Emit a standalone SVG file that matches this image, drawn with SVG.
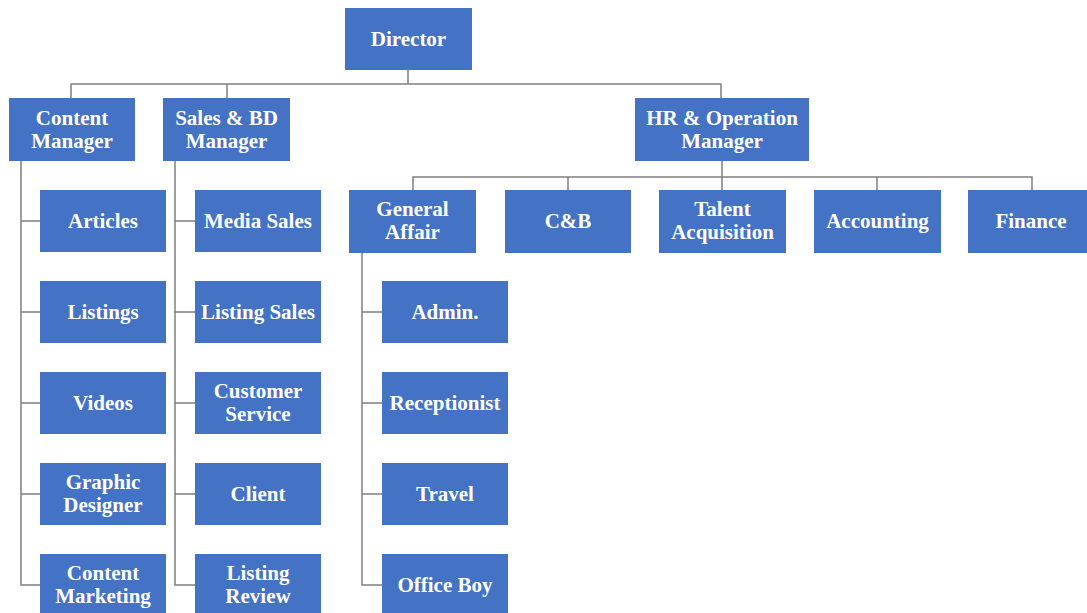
<svg xmlns="http://www.w3.org/2000/svg" width="1087" height="613" viewBox="0 0 1087 613">
<style>
.b{fill:#4472C4}
.t{fill:#fff;font-family:'Liberation Serif','Times New Roman','DejaVu Serif',serif;font-weight:700;font-size:21px;text-anchor:middle}
.c{fill:none;stroke:#7f7f7f;stroke-width:1.5}
</style>
<rect width="1087" height="613" fill="#fff"/>
<g id="connectors" class="c">
<path d="M408 70V84M71 98V84H721V98"/>
<path d="M227 84V98"/>
<path d="M722 161V177M413 190V177H1032V190M568 177V190M722 177V190M877 177V190"/>
<path d="M21 161V585H40M21 221H40M21 312H40M21 403H40M21 494H40"/>
<path d="M175 161V585H195M175 221H195M175 312H195M175 403H195M175 494H195"/>
<path d="M362 253V585H382M362 312H382M362 403H382M362 494H382"/>
</g>
<g id="director"><rect class="b" x="345" y="8" width="127" height="62"/><text class="t" x="408.5" y="46">Director</text></g>
<g id="content-manager"><rect class="b" x="9" y="98" width="126" height="63"/><text class="t" x="72" y="125">Content</text><text class="t" x="72" y="148">Manager</text></g>
<g id="sales-manager"><rect class="b" x="163" y="98" width="127" height="63"/><text class="t" x="226.5" y="125">Sales &amp; BD</text><text class="t" x="226.5" y="148">Manager</text></g>
<g id="hr-manager"><rect class="b" x="635" y="98" width="174" height="63"/><text class="t" x="722" y="125">HR &amp; Operation</text><text class="t" x="722" y="148">Manager</text></g>
<g id="articles"><rect class="b" x="40" y="190" width="126" height="62"/><text class="t" x="103" y="228">Articles</text></g>
<g id="listings"><rect class="b" x="40" y="281" width="126" height="62"/><text class="t" x="103" y="319">Listings</text></g>
<g id="videos"><rect class="b" x="40" y="372" width="126" height="62"/><text class="t" x="103" y="410">Videos</text></g>
<g id="graphic-designer"><rect class="b" x="40" y="463" width="126" height="62"/><text class="t" x="103" y="489">Graphic</text><text class="t" x="103" y="512">Designer</text></g>
<g id="content-marketing"><rect class="b" x="40" y="554" width="126" height="62"/><text class="t" x="103" y="580">Content</text><text class="t" x="103" y="603">Marketing</text></g>
<g id="media-sales"><rect class="b" x="195" y="190" width="126" height="62"/><text class="t" x="258" y="228">Media Sales</text></g>
<g id="listing-sales"><rect class="b" x="195" y="281" width="126" height="62"/><text class="t" x="258" y="319">Listing Sales</text></g>
<g id="customer-service"><rect class="b" x="195" y="372" width="126" height="62"/><text class="t" x="258" y="398">Customer</text><text class="t" x="258" y="421">Service</text></g>
<g id="client"><rect class="b" x="195" y="463" width="126" height="62"/><text class="t" x="258" y="501">Client</text></g>
<g id="listing-review"><rect class="b" x="195" y="554" width="126" height="62"/><text class="t" x="258" y="580">Listing</text><text class="t" x="258" y="603">Review</text></g>
<g id="general-affair"><rect class="b" x="349" y="190" width="127" height="63"/><text class="t" x="412.5" y="216">General</text><text class="t" x="412.5" y="239">Affair</text></g>
<g id="cb"><rect class="b" x="505" y="190" width="126" height="63"/><text class="t" x="568" y="228">C&amp;B</text></g>
<g id="talent-acquisition"><rect class="b" x="659" y="190" width="127" height="63"/><text class="t" x="722.5" y="216">Talent</text><text class="t" x="722.5" y="239">Acquisition</text></g>
<g id="accounting"><rect class="b" x="814" y="190" width="127" height="63"/><text class="t" x="877.5" y="228">Accounting</text></g>
<g id="finance"><rect class="b" x="968" y="190" width="127" height="63"/><text class="t" x="1031" y="228">Finance</text></g>
<g id="admin"><rect class="b" x="382" y="281" width="126" height="62"/><text class="t" x="445" y="319">Admin.</text></g>
<g id="receptionist"><rect class="b" x="382" y="372" width="126" height="62"/><text class="t" x="445" y="410">Receptionist</text></g>
<g id="travel"><rect class="b" x="382" y="463" width="126" height="62"/><text class="t" x="445" y="501">Travel</text></g>
<g id="office-boy"><rect class="b" x="382" y="554" width="126" height="62"/><text class="t" x="445" y="592">Office Boy</text></g>
</svg>
